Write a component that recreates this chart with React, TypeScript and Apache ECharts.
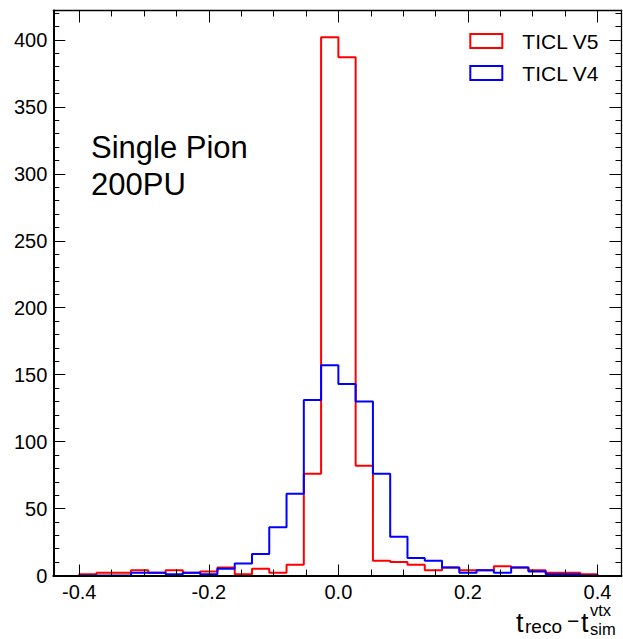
import React, { useEffect, useRef } from 'react';
import * as echarts from 'echarts';

// ---- data ----
const BIN_MIN = -0.4;
const BIN_MAX = 0.4;
const seriesNames = ['TICL V5', 'TICL V4'];
// 30 bins from -0.4 to 0.4
const ticlV5 = [1, 2, 2, 4, 2, 4, 2, 3, 6, 1, 5, 2, 8, 76, 402, 387, 82, 11, 10, 8, 4, 6, 4, 4, 7, 6, 4, 2, 2, 1];
const ticlV4 = [0, 0, 0, 2, 2, 1, 2, 1, 5, 9, 16, 36, 61, 131, 157, 143, 130, 76, 29, 13, 11, 6, 2, 4, 2, 6, 3, 1, 1, 0];
const seriesColors = ['#ff0000', '#0000ff'];

const xMajorTicks = [-0.4, -0.2, 0, 0.2, 0.4];
const xMinorTicks = [-0.35, -0.3, -0.25, -0.15, -0.1, -0.05, 0.05, 0.1, 0.15, 0.25, 0.3, 0.35];
const yMajorTicks = [0, 50, 100, 150, 200, 250, 300, 350, 400];
const yMinorTicks = [10, 20, 30, 40, 60, 70, 80, 90, 110, 120, 130, 140, 160, 170, 180, 190, 210, 220, 230, 240, 260, 270, 280, 290, 310, 320, 330, 340, 360, 370, 380, 390, 410, 420];

const X_MIN = -0.44;
const X_MAX = 0.437;
const Y_MIN = 0;
const Y_MAX = 422;

const FONT = '"Liberation Sans", Arial, Helvetica, sans-serif';

function histPoints(vals: number[]): [number, number][] {
  const w = (BIN_MAX - BIN_MIN) / vals.length;
  const pts: [number, number][] = [[BIN_MIN, 0]];
  vals.forEach((v, i) => pts.push([BIN_MIN + i * w, v]));
  pts.push([BIN_MAX, vals[vals.length - 1]]);
  pts.push([BIN_MAX, 0]);
  return pts;
}

function axisDef(
  kind: 'x' | 'y',
  position: string,
  ticks: number[],
  tickLen: number,
  lineWidth: number,
  labels: boolean
) {
  return {
    type: 'value',
    position,
    min: kind === 'x' ? X_MIN : Y_MIN,
    max: kind === 'x' ? X_MAX : Y_MAX,
    z: 3,
    splitLine: { show: false },
    axisLine: {
      show: lineWidth > 0,
      onZero: false,
      lineStyle: { color: '#000', width: lineWidth },
    },
    axisTick: {
      show: true,
      inside: true,
      length: tickLen,
      customValues: ticks,
      lineStyle: { color: '#000', width: 1 },
    },
    axisLabel: labels
      ? {
          show: true,
          customValues: ticks,
          fontFamily: FONT,
          fontSize: 20,
          color: '#000',
          margin: 6,
          formatter: (v: number) => (kind === 'x' ? v.toFixed(1) : String(v)),
        }
      : { show: false },
  };
}

export default function App() {
  const ref = useRef<HTMLDivElement>(null);

  useEffect(() => {
    if (!ref.current) return;
    const chart = echarts.init(ref.current, null, { renderer: 'svg' });
    const data = [ticlV5, ticlV4];
    const option: any = {
      animation: false,
      backgroundColor: '#fff',
      grid: {
        left: 53.3,
        right: 1.5,
        top: 10.5,
        bottom: 63.5,
        containLabel: false,
        outerBoundsMode: 'none',
      },
      xAxis: [
        axisDef('x', 'bottom', xMajorTicks, 11, 2, true),
        axisDef('x', 'bottom', xMinorTicks, 6, 0, false),
        axisDef('x', 'top', xMajorTicks, 12, 1.3, false),
        axisDef('x', 'top', xMinorTicks, 6, 0, false),
      ],
      yAxis: [
        axisDef('y', 'left', yMajorTicks, 12, 2, true),
        axisDef('y', 'left', yMinorTicks, 6, 0, false),
        axisDef('y', 'right', yMajorTicks, 12, 1.3, false),
        axisDef('y', 'right', yMinorTicks, 6, 0, false),
      ],
      legend: {
        orient: 'vertical',
        left: 469.3,
        top: 29,
        padding: 0,
        itemWidth: 32,
        itemHeight: 14,
        itemGap: 8,
        selectedMode: false,
        textStyle: {
          fontFamily: FONT,
          fontSize: 21,
          color: '#000',
          lineHeight: 24,
          padding: [0, 0, 0, 15],
        },
        data: seriesNames.map((n, i) => ({
          name: n,
          icon: 'rect',
          itemStyle: { color: 'rgba(0,0,0,0)', borderColor: seriesColors[i], borderWidth: 2 },
        })),
      },
      series: seriesNames.map((n, i) => ({
        name: n,
        type: 'line',
        step: 'end',
        xAxisIndex: 0,
        yAxisIndex: 0,
        symbol: 'none',
        z: 2,
        color: seriesColors[i],
        lineStyle: { color: seriesColors[i], width: 2 },
        data: histPoints(data[i]),
      })),
      graphic: [
        {
          type: 'text',
          x: 91,
          y: 147,
          style: { text: 'Single Pion', fontFamily: FONT, fontSize: 31, fill: '#000', verticalAlign: 'middle', align: 'left' },
        },
        {
          type: 'text',
          x: 91,
          y: 184,
          style: { text: '200PU', fontFamily: FONT, fontSize: 31, fill: '#000', verticalAlign: 'middle', align: 'left' },
        },
        {
          type: 'text',
          x: 516,
          y: 622.5,
          style: { text: 't', fontFamily: FONT, fontSize: 27, fill: '#000', verticalAlign: 'middle', align: 'left' },
        },
        {
          type: 'text',
          x: 525,
          y: 626.4,
          style: { text: 'reco', fontFamily: FONT, fontSize: 19, fill: '#000', verticalAlign: 'middle', align: 'left' },
        },
        {
          type: 'text',
          x: 567,
          y: 620,
          style: { text: '\u2212', fontFamily: FONT, fontSize: 21, fill: '#000', verticalAlign: 'middle', align: 'left' },
        },
        {
          type: 'text',
          x: 581,
          y: 622.5,
          style: { text: 't', fontFamily: FONT, fontSize: 27, fill: '#000', verticalAlign: 'middle', align: 'left' },
        },
        {
          type: 'text',
          x: 590,
          y: 610,
          style: { text: 'vtx', fontFamily: FONT, fontSize: 16.5, fill: '#000', verticalAlign: 'middle', align: 'left' },
        },
        {
          type: 'text',
          x: 590,
          y: 628.8,
          style: { text: 'sim', fontFamily: FONT, fontSize: 16.5, fill: '#000', verticalAlign: 'middle', align: 'left' },
        },
      ],
    };
    chart.setOption(option);
    return () => {
      chart.dispose();
    };
  }, []);

  return (
    <div
      ref={ref}
      style={{ position: 'fixed', left: 0, top: 0, width: 623, height: 639, background: '#fff' }}
    />
  );
}
